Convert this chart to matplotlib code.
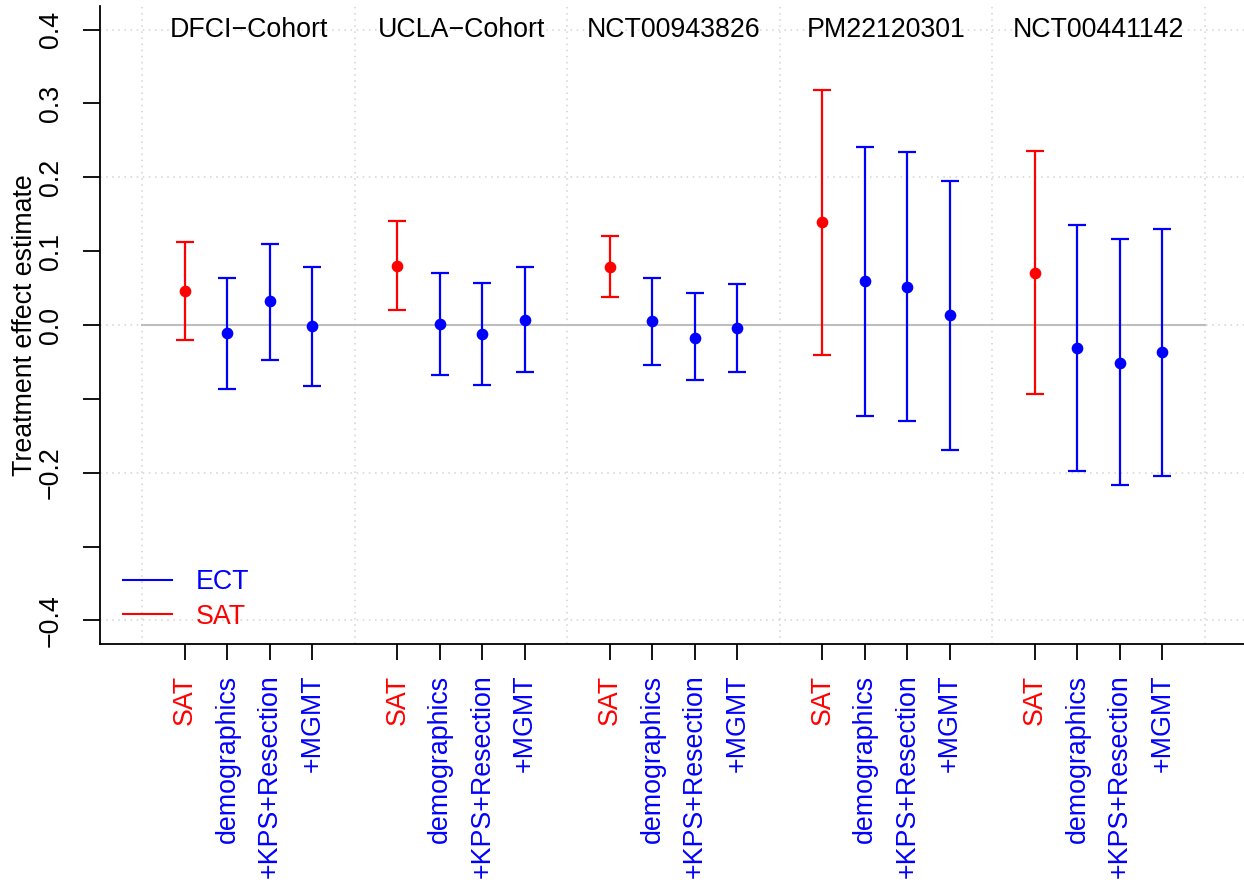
import matplotlib
matplotlib.use("Agg")
import matplotlib.pyplot as plt
from matplotlib.lines import Line2D

plt.rcParams['font.family'] = ['Liberation Sans', 'DejaVu Sans']

groups = ["DFCI\u2212Cohort", "UCLA\u2212Cohort", "NCT00943826", "PM22120301", "NCT00441142"]
methods = ["SAT", "demographics", "+KPS+Resection", "+MGMT"]

est_dfci = [0.046, -0.011, 0.032, -0.002]
lo_dfci = [-0.020, -0.087, -0.047, -0.083]
hi_dfci = [0.113, 0.064, 0.110, 0.078]

est_ucla = [0.080, 0.002, -0.012, 0.007]
lo_ucla = [0.020, -0.068, -0.081, -0.064]
hi_ucla = [0.141, 0.071, 0.057, 0.078]

est_nct9 = [0.079, 0.005, -0.017, -0.004]
lo_nct9 = [0.038, -0.054, -0.075, -0.064]
hi_nct9 = [0.121, 0.063, 0.043, 0.056]

est_pm = [0.139, 0.059, 0.052, 0.014]
lo_pm = [-0.040, -0.123, -0.130, -0.169]
hi_pm = [0.318, 0.241, 0.234, 0.195]

est_nct4 = [0.071, -0.031, -0.051, -0.037]
lo_nct4 = [-0.093, -0.198, -0.217, -0.204]
hi_nct4 = [0.235, 0.135, 0.116, 0.130]

estimates = [est_dfci, est_ucla, est_nct9, est_pm, est_nct4]
lowers = [lo_dfci, lo_ucla, lo_nct9, lo_pm, lo_nct4]
uppers = [hi_dfci, hi_ucla, hi_nct9, hi_pm, hi_nct4]

ytick_vals = [-0.4, -0.3, -0.2, -0.1, 0.0, 0.1, 0.2, 0.3, 0.4]
ytick_labels = ["\u22120.4", "", "\u22120.2", "", "0.0", "0.1", "0.2", "0.3", "0.4"]

RED = "#FF0000"
BLUE = "#0000FF"
FS = 19.3

W, H = 1244, 882
fig = plt.figure(figsize=(W / 100, H / 100), dpi=100)
ax = fig.add_axes([100.0 / W, (H - 644) / H, 1147.4 / W, 638 / H])

ax.set_xlim(-1, 26)
ax.set_ylim(-0.432, 0.432)

# grid
for gx in [0, 5, 10, 15, 20, 25]:
    ax.plot([gx, gx], [-0.432, 0.432], color="#d3d3d3", lw=1.1, ls=(0, (1, 3)), zorder=0)
for gy in [-0.4, -0.2, 0.0, 0.2, 0.4]:
    ax.plot([-1, 26], [gy, gy], color="#d3d3d3", lw=1.1, ls=(0, (1, 3)), zorder=0)
ax.plot([0, 25], [0, 0], color="#bebebe", lw=1.5, zorder=1)

positions = []
labels = []
colors = []
for g, name in enumerate(groups):
    for i, m in enumerate(methods):
        x = g * 5 + 1 + i
        e = estimates[g][i]
        lo = lowers[g][i]
        hi = uppers[g][i]
        c = RED if i == 0 else BLUE
        ax.errorbar([x], [e], yerr=[[e - lo], [hi - e]], fmt='o', color=c,
                    ecolor=c, elinewidth=1.6, capsize=6.4, capthick=1.6,
                    markersize=7.4, zorder=3)
        positions.append(x)
        labels.append(m)
        colors.append(c)
    ax.text(g * 5 + 2.5, 0.4, name, ha='center', va='center', fontsize=FS, color='black')

ax.set_xticks(positions)
ax.set_xticklabels(labels, rotation=90, fontsize=FS, va='top', ha='center')
for t, c in zip(ax.get_xticklabels(), colors):
    t.set_color(c)

ax.set_yticks(ytick_vals)
ax.set_yticklabels(ytick_labels, rotation=90, fontsize=FS, va='center')

ax.tick_params(axis='x', length=11.5, width=1.3, pad=10.5)
ax.tick_params(axis='y', length=12, width=1.3, pad=14)

for s in ['top', 'right']:
    ax.spines[s].set_visible(False)
for s in ['left', 'bottom']:
    ax.spines[s].set_linewidth(1.3)

ax.set_ylabel("Treatment effect estimate", fontsize=FS)
ax.yaxis.set_label_coords(-0.054, 0.5)

handles = [Line2D([0], [0], color=BLUE, lw=1.5), Line2D([0], [0], color=RED, lw=1.5)]
leg = ax.legend(handles, ["ECT", "SAT"], loc='center left',
                bbox_to_anchor=(0.0203, 0.070), frameon=False, fontsize=FS,
                handlelength=1.8, handletextpad=0.9, labelspacing=0.32,
                borderpad=0, borderaxespad=0)
for t, c in zip(leg.get_texts(), [BLUE, RED]):
    t.set_color(c)

fig.savefig("out.png", dpi=100)
